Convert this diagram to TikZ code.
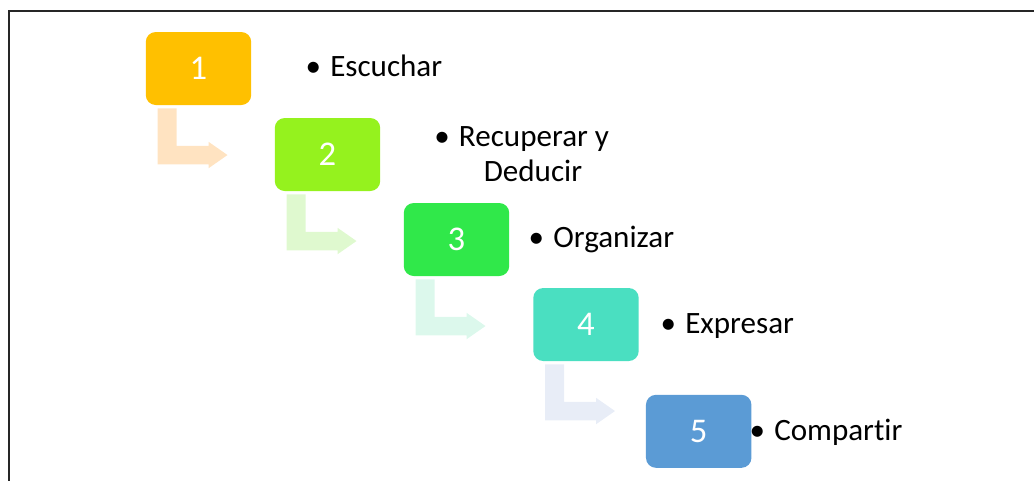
\documentclass[tikz,border=0pt]{standalone}
\usepackage{fontspec}
\setmainfont[RawFeature=-liga]{Carlito}
\usetikzlibrary{calc}
\definecolor{cA}{HTML}{FFC000}
\definecolor{cB}{HTML}{95F21E}
\definecolor{cC}{HTML}{30E84A}
\definecolor{cD}{HTML}{4ADFC1}
\definecolor{cE}{HTML}{5B9BD5}
\definecolor{aA}{HTML}{FFE3C1}
\definecolor{aB}{HTML}{DFF9CF}
\definecolor{aC}{HTML}{DCF8EC}
\definecolor{aD}{HTML}{E8EDF7}
\definecolor{frame}{HTML}{262626}
\newcommand\mybent[2]{%
  \fill[#2] ($(#1.south west)+(12,3)$) -- ($(#1.south west)+(31,3)$) -- ($(#1.south west)+(31,40.5)$)
    -- ($(#1.south west)+(63,40.5)$) -- ($(#1.south west)+(63,36.5)$) -- ($(#1.south west)+(82,49.75)$)
    -- ($(#1.south west)+(63,63)$) -- ($(#1.south west)+(63,59)$) -- ($(#1.south west)+(12,59)$) -- cycle;}
\begin{document}
\begin{tikzpicture}[x=0.75pt,y=-0.75pt,
  numbox/.style={rectangle,rounded corners=7.5pt,minimum width=79.1pt,minimum height=54.75pt,
    inner sep=0pt,text=white,font=\fontsize{26}{30}\selectfont},
  lbl/.style={inner sep=0pt,anchor=base west,font=\fontsize{23.3}{28}\selectfont},
  lblc/.style={inner sep=0pt,anchor=base,font=\fontsize{23.3}{28}\selectfont}]
\useasboundingbox (0,0) rectangle (1034,480);
\draw[frame,line width=1.4pt] (9,11) rectangle (1045,495);
\node[numbox,fill=cA] (b1) at (198.5,68.5) {1};
\node[numbox,fill=cB] (b2) at (327.5,154.5) {2};
\node[numbox,fill=cC] (b3) at (456.5,239.5) {3};
\node[numbox,fill=cD] (b4) at (586,324.5) {4};
\node[numbox,fill=cE] (b5) at (698.7,431.3) {5};
\mybent{b1}{aA}
\mybent{b2}{aB}
\mybent{b3}{aC}
\mybent{b4}{aD}
\newcommand\bul{\llap{\makebox[0pt]{•}\hspace{12.75pt}}}
\node[lbl] (l1) at (330,76.3) {\bul Escuchar};
\node[lblc] (l2a) at (534,146.7) {\bul Recuperar y};
\node[lblc] (l2b) at (533,181.7) {Deducir};
\node[lbl] (l3) at (553,247.7) {\bul Organizar};
\node[lbl] (l4) at (685,333) {\bul Expresar};
\node[lbl] (l5) at (774,440.7) {\bul Compartir};
\end{tikzpicture}
\end{document}
